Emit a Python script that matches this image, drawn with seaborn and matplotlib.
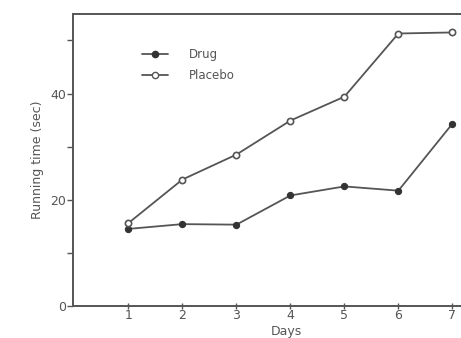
import matplotlib
matplotlib.use("Agg")
import matplotlib.pyplot as plt
import seaborn as sns
import pandas as pd
from matplotlib.lines import Line2D

sns.set_style("ticks")
plt.rcParams['font.family'] = ['DejaVu Sans']

# data
days = [1, 2, 3, 4, 5, 6, 7]
drug = [14.5, 15.4, 15.3, 20.8, 22.5, 21.7, 34.3]
placebo = [15.6, 23.8, 28.5, 34.9, 39.4, 51.3, 51.5]

df = pd.DataFrame({
    'Days': days * 2,
    'time': drug + placebo,
    'group': ['Drug'] * len(days) + ['Placebo'] * len(days),
})

ink = '#555555'
fig = plt.figure(figsize=(4.61, 3.38), dpi=100)
ax = fig.add_axes([0.158, 0.095, 0.842, 0.864])

sns.lineplot(data=df, x='Days', y='time', hue='group', style='group',
             palette={'Drug': ink, 'Placebo': ink},
             markers={'Drug': 'o', 'Placebo': 'o'}, dashes=False,
             linewidth=1.3, markersize=4.5, ax=ax, legend=False)
# placebo markers hollow
lines = ax.get_lines()
lines[0].set_markerfacecolor('#333333')
lines[0].set_markeredgecolor('#333333')
lines[1].set_markerfacecolor('white')
lines[1].set_markeredgecolor(ink)
lines[1].set_markeredgewidth(1.2)

ax.set_xlim(-0.03, 7.16)
ax.set_ylim(0, 55)
ax.set_xticks(days)
ax.set_yticks([0, 20, 40])
ax.set_yticks([10, 30, 50], minor=True)
ax.tick_params(axis='x', direction='inout', length=5, width=1, colors=ink,
               labelsize=9, pad=0)
ax.tick_params(axis='y', direction='out', length=4, width=1, colors=ink,
               labelsize=9, pad=1)
ax.tick_params(axis='y', which='minor', direction='out', length=4, width=1, colors=ink)
for s in ['left', 'bottom', 'top']:
    ax.spines[s].set_color(ink)
    ax.spines[s].set_linewidth(1.4)
ax.spines['right'].set_visible(False)

ax.set_xlabel('Days', fontsize=9, color=ink, labelpad=0)
ax.set_ylabel('Running time (sec)', fontsize=9, color=ink, labelpad=4)
ax.xaxis.set_label_coords(0.55, -0.064)

# legend
handles = [
    Line2D([], [], color=ink, lw=1.3, marker='o', markersize=4.5,
           markerfacecolor='#333333', markeredgecolor='#333333'),
    Line2D([], [], color=ink, lw=1.3, marker='o', markersize=4.5,
           markerfacecolor='white', markeredgecolor=ink),
]
leg = ax.legend(handles, ['Drug', 'Placebo'], frameon=False, fontsize=8.5,
                loc='upper left', bbox_to_anchor=(0.15, 0.92),
                handlelength=2.2, handletextpad=1.8, labelspacing=0.7)
for t in leg.get_texts():
    t.set_color(ink)

fig.savefig('out.png', dpi=100)
